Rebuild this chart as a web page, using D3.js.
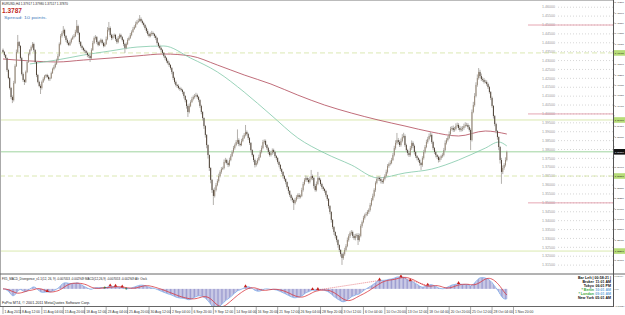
<!DOCTYPE html>
<html>
<head>
<meta charset="utf-8">
<script src="https://cdnjs.cloudflare.com/ajax/libs/d3/7.8.5/d3.min.js"></script>
<style>
body { margin: 0; background: #fff; }
svg { display: block; font-family: "Liberation Sans", Arial, sans-serif; }
</style>
</head>
<body>
<div class="canvas"></div>
<script>
const [width, height] = [625, 315];

// ---- price data (H4 closes) ----
const firstOpen = 1.4360;
const closesAugust = [
  1.4348, 1.4331, 1.4314, 1.4247, 1.4202, 1.4146, 1.4095, 1.4078, 1.4174, 1.4269,
  1.4348, 1.4404, 1.4382, 1.4314, 1.4224, 1.4191, 1.4180, 1.4236, 1.4292, 1.4337,
  1.4359, 1.4376, 1.4393, 1.4359, 1.4292, 1.4219, 1.4180, 1.4157, 1.4146, 1.4180,
  1.4196, 1.4213, 1.4219, 1.4208, 1.4196, 1.4202, 1.4230, 1.4253, 1.4264, 1.4281,
  1.4303, 1.4326, 1.4393, 1.4438, 1.4455, 1.4472, 1.4438, 1.4416, 1.4399, 1.4388,
  1.4404, 1.4421, 1.4432, 1.4438, 1.4461, 1.4494, 1.4455, 1.4404, 1.4382, 1.4371,
  1.4359, 1.4354, 1.4343, 1.4331, 1.4326, 1.4314, 1.4359, 1.4399, 1.4427, 1.4432,
  1.4404, 1.4388, 1.4404, 1.4416, 1.4399, 1.4382, 1.4393, 1.4421, 1.4472, 1.4483,
  1.4444, 1.4427, 1.4438, 1.4444, 1.4421, 1.4404, 1.4427, 1.4444, 1.4432, 1.4416,
  1.4393, 1.4371, 1.4393, 1.4416, 1.4427, 1.4444, 1.4461, 1.4477, 1.4489, 1.4506,
  1.4517, 1.4522, 1.4534, 1.4522, 1.4511, 1.4500, 1.4483, 1.4466, 1.4449, 1.4438,
  1.4449, 1.4455, 1.4449, 1.4438, 1.4427, 1.4399, 1.4382, 1.4371, 1.4359, 1.4343
];
const closesSeptember = [
  1.4326, 1.4314, 1.4298, 1.4286, 1.4275, 1.4258, 1.4236, 1.4202, 1.4180, 1.4163,
  1.4157, 1.4146, 1.4140, 1.4135, 1.4123, 1.4101, 1.4078, 1.4045, 1.4011, 1.4045,
  1.4067, 1.4084, 1.4095, 1.4101, 1.4106, 1.4095, 1.4078, 1.4045, 1.4011, 1.3977,
  1.3932, 1.3882, 1.3825, 1.3769, 1.3696, 1.3629, 1.3572, 1.3539, 1.3572, 1.3600,
  1.3623, 1.3651, 1.3674, 1.3690, 1.3696, 1.3730, 1.3741, 1.3724, 1.3713, 1.3741,
  1.3763, 1.3786, 1.3808, 1.3825, 1.3842, 1.3853, 1.3831, 1.3825, 1.3848, 1.3865,
  1.3882, 1.3898, 1.3887, 1.3865, 1.3837, 1.3797, 1.3769, 1.3741, 1.3713, 1.3724,
  1.3741, 1.3758, 1.3786, 1.3808, 1.3842, 1.3848, 1.3825, 1.3808, 1.3786, 1.3769,
  1.3780, 1.3797, 1.3786, 1.3763, 1.3752, 1.3730, 1.3713, 1.3690, 1.3674, 1.3651,
  1.3634, 1.3617, 1.3589, 1.3567, 1.3544, 1.3527, 1.3516, 1.3499, 1.3516, 1.3533,
  1.3544, 1.3533, 1.3539, 1.3572, 1.3606, 1.3629, 1.3640, 1.3629, 1.3617, 1.3634,
  1.3651, 1.3640, 1.3595, 1.3572, 1.3606, 1.3640, 1.3629, 1.3606, 1.3589, 1.3578,
  1.3567, 1.3544, 1.3522, 1.3482, 1.3449, 1.3404, 1.3364, 1.3336, 1.3314, 1.3291,
  1.3263, 1.3235
];
const closesOctober = [
  1.3212, 1.3190, 1.3212, 1.3235, 1.3257, 1.3291, 1.3314, 1.3331,
  1.3336, 1.3314, 1.3302, 1.3314, 1.3319, 1.3291, 1.3314, 1.3370, 1.3392, 1.3415,
  1.3432, 1.3437, 1.3449, 1.3460, 1.3488, 1.3516, 1.3539, 1.3572, 1.3612, 1.3634,
  1.3640, 1.3634, 1.3623, 1.3617, 1.3634, 1.3651, 1.3674, 1.3707, 1.3718, 1.3724,
  1.3741, 1.3769, 1.3808, 1.3837, 1.3853, 1.3842, 1.3825, 1.3848, 1.3870, 1.3876,
  1.3825, 1.3797, 1.3780, 1.3769, 1.3808, 1.3837, 1.3820, 1.3786, 1.3763, 1.3752,
  1.3741, 1.3724, 1.3713, 1.3752, 1.3786, 1.3814, 1.3842, 1.3859, 1.3876, 1.3882,
  1.3842, 1.3808, 1.3786, 1.3769, 1.3758, 1.3741, 1.3752, 1.3763, 1.3769, 1.3797,
  1.3837, 1.3853, 1.3865, 1.3887, 1.3915, 1.3921, 1.3910, 1.3915, 1.3932, 1.3938,
  1.3921, 1.3910, 1.3915, 1.3921, 1.3932, 1.3938, 1.3938, 1.3926, 1.3910, 1.3853,
  1.4011, 1.4050, 1.4101, 1.4163, 1.4202, 1.4236, 1.4213, 1.4196, 1.4191, 1.4180,
  1.4180, 1.4168, 1.4151, 1.4123, 1.4090, 1.4045, 1.3988, 1.3943, 1.3904, 1.3870,
  1.3814, 1.3741, 1.3674, 1.3696, 1.3713, 1.3741, 1.3787
];
// wick lengths above / below the body, in pips
const upperWickPips = [
  8,6,5,4,7,5,6,9,12,10,14,40,6,5,7,9,6,8,10,7,
  6,9,11,8,5,4,6,7,9,8,10,6,5,7,9,6,8,7,10,9,
  8,12,9,11,10,22,7,6,9,8,10,7,9,11,12,34,8,5,6,7,
  6,8,5,7,6,8,10,12,9,11,6,7,9,8,6,7,10,14,16,34,
  9,7,10,8,6,9,11,8,7,6,5,6,9,10,8,11,9,12,10,13,
  11,14,22,9,8,7,6,8,10,7,9,12,8,6,7,5,6,8,7,6,
  5,7,6,8,9,5,6,4,7,8,6,9,7,8,6,5,4,6,9,14,
  10,12,9,11,13,8,6,5,7,5,4,6,5,4,3,5,6,8,15,12,
  10,13,9,11,8,14,12,7,9,13,11,10,12,9,11,60,10,8,12,14,
  11,40,9,7,6,5,4,6,8,12,10,13,11,14,12,9,8,6,7,10,
  12,9,8,7,6,5,7,6,5,4,6,5,4,6,5,7,8,6,12,10,
  9,11,8,13,12,10,14,9,11,13,34,8,7,12,14,34,9,8,7,6,
  5,6,4,5,6,4,5,6,4,5,6,4,5,7,10,12,11,14,10,9,
  11,8,10,12,9,11,13,10,9,12,8,11,10,9,12,11,13,10,9,12,
  10,8,11,9,12,10,13,11,9,14,12,11,13,15,40,12,10,14,16,18,
  9,8,7,10,12,14,9,8,7,6,5,7,6,10,12,11,13,12,14,16,
  9,7,6,8,5,7,9,8,10,12,14,11,12,15,13,11,14,12,15,13,
  10,12,14,11,13,15,12,10,11,9,14,18,16,15,20,22,12,14,10,11,
  12,9,8,7,6,8,5,6,7,5,4,6,12,14,10,15,6
];
const lowerWickPips = [
  6,9,8,10,7,9,12,17,8,6,5,7,10,9,8,11,17,6,7,5,
  8,6,7,10,9,12,8,7,34,9,6,8,10,7,9,11,6,5,8,7,
  6,5,4,7,9,8,10,12,9,7,6,8,5,7,6,8,10,12,9,11,
  8,10,9,12,11,22,6,5,7,9,10,8,6,7,9,8,6,5,7,9,
  10,12,8,9,11,10,7,6,8,9,12,28,7,6,5,6,7,5,4,6,
  5,6,4,7,8,9,10,11,9,8,7,10,9,11,12,10,9,8,11,10,
  9,12,10,8,11,9,13,12,10,9,11,8,10,9,12,14,13,15,28,8,
  7,6,8,9,7,10,12,11,13,14,16,15,18,20,17,19,16,51,9,8,
  7,9,8,10,6,8,7,9,12,8,7,6,8,9,7,10,12,8,6,7,
  6,8,9,12,11,13,10,12,14,9,8,7,6,8,7,9,11,10,12,9,
  8,10,9,11,12,10,13,11,12,14,10,13,12,15,11,14,13,39,8,9,
  12,10,8,7,9,8,10,11,9,8,7,12,14,9,8,7,9,10,12,11,
  10,12,11,14,13,15,12,16,14,13,15,12,14,39,10,9,8,7,9,11,
  10,12,11,13,10,28,9,8,10,7,9,8,10,11,9,8,7,9,10,8,
  11,12,14,10,9,8,7,9,10,8,7,6,8,9,10,12,11,9,8,7,
  10,12,13,11,9,10,12,14,11,13,12,15,28,10,9,8,7,9,8,7,
  10,12,11,13,12,14,11,10,9,8,7,9,8,7,10,9,11,10,8,9,
  11,10,9,12,10,9,8,11,10,56,8,7,9,8,10,9,12,11,10,9,
  8,10,11,9,12,10,14,12,13,15,18,20,67,12,10,9,8
];

// moving averages, sampled at bar numbers
const slowMaBars = [0,20,40,60,80,100,120,140,160,180,200,220,240,260,280,300,320,340,360,376];
const slowMaValues = [1.4309,1.4298,1.4292,1.4303,1.4314,1.4326,1.4337,1.4326,1.4275,1.4219,
                      1.4168,1.4106,1.4050,1.4005,1.3966,1.3932,1.3898,1.3876,1.3904,1.3887];
const fastMaBars = [20,40,60,80,100,120,140,160,180,200,220,240,260,280,300,320,340,360,370,376];
const fastMaValues = [1.4281,1.4303,1.4331,1.4354,1.4376,1.4382,1.4314,1.4236,1.4123,1.3994,
                      1.3865,1.3780,1.3713,1.3640,1.3668,1.3690,1.3741,1.3808,1.3842,1.3820];

// horizontal levels
const dashedLevels = [1.4343, 1.3651];
const solidLevels = [1.3966, 1.3229];
const majorLevels = [1.45, 1.40, 1.35];
const roundLevels = d3.range(1.315, 1.46001, 0.005);

// axes
const priceAxisTicks = [1.46270,1.45690,1.45110,1.44530,1.43950,1.43370,1.42790,1.42210,1.41630,
  1.41050,1.40470,1.39890,1.39310,1.38730,1.38150,1.37570,1.36990,1.36410,1.35830,1.35250,
  1.34670,1.34090,1.33510,1.32930,1.32350,1.31770];
const timeLabels = ["1 Aug 2011","8 Aug 12:00","11 Aug 04:00","15 Aug 20:00","18 Aug 12:00",
  "23 Aug 04:00","25 Aug 20:00","30 Aug 12:00","2 Sep 04:00","6 Sep 20:00","9 Sep 12:00",
  "14 Sep 04:00","16 Sep 20:00","21 Sep 12:00","26 Sep 04:00","28 Sep 20:00","3 Oct 12:00",
  "6 Oct 04:00","10 Oct 20:00","13 Oct 12:00","18 Oct 04:00","20 Oct 20:00","25 Oct 12:00",
  "28 Oct 04:00","1 Nov 20:00"];
const macdAxisTicks = [0.010464, 0, -0.013924];

// MACD divergence markers (bar numbers)
const divergenceBars = [33, 80, 84, 89, 181, 231, 235, 281, 297, 304, 317, 340];
const divergenceLinks = [[235, 281], [297, 317]];
const crossBars = [76, 92];

// clock panel
const clockNames = ["Bar Left", "Broker", "Tokyo", "* Berlin", "* London", "New York"];
const clockTimes = ["| 00:58:21 |", "11:01 AM", "06:01 PM", "10:01 AM", "09:01 AM", "05:01 AM"];

const closes = closesAugust.concat(closesSeptember, closesOctober);
const bars = closes.map((c, i) => {
  const o = i === 0 ? firstOpen : closes[i - 1];
  return {
    i, o, c,
    h: Math.max(o, c) + (upperWickPips[i] || 0) / 10000,
    l: Math.min(o, c) - (lowerWickPips[i] || 0) / 10000
  };
});

// MACD(12,26,9) of the closes
function ema(vals, n){
  const k = 2 / (n + 1);
  let e = vals[0];
  return vals.map(v => (e = v * k + e * (1 - k)));
}
const e12 = ema(closes, 12), e26 = ema(closes, 26);
const macd = closes.map((c, i) => e12[i] - e26[i]);
const signal = macd.map((m, i) => d3.mean(macd.slice(Math.max(0, i - 8), i + 1)));

const svg = d3.select('.canvas')
  .append('svg')
  .attr('width', width)
  .attr('height', height);

svg.append('rect').attr('width', width).attr('height', height).attr('fill', '#fff');

const axisX = 613;
const x = d3.scaleLinear().domain([0, closes.length - 1]).range([3, 506.8]);
const y = d3.scaleLinear().domain([1.3145, 1.4247]).range([266, 70]);
const ym = d3.scaleLinear().domain(d3.extent(macdAxisTicks)).range([306, 276]);
const fmt5 = d3.format('.5f');

svg.append('clipPath').attr('id', 'mainClip')
  .append('rect').attr('x', 0).attr('y', 0).attr('width', axisX).attr('height', 273);
svg.append('clipPath').attr('id', 'macdClip')
  .append('rect').attr('x', 0).attr('y', 275).attr('width', axisX).attr('height', 31);

const main = svg.append('g').attr('clip-path', 'url(#mainClip)');

// round number grid on the right side
main.selectAll('line.round')
  .data(roundLevels)
  .enter()
  .append('line')
  .attr('x1', 558).attr('x2', axisX)
  .attr('y1', d => y(d)).attr('y2', d => y(d))
  .attr('stroke', '#c4c4c4')
  .attr('stroke-width', 0.7)
  .attr('stroke-dasharray', '1,2');
main.selectAll('text.round')
  .data(roundLevels)
  .enter()
  .append('text')
  .attr('x', 555).attr('y', d => y(d) + 1.2)
  .attr('text-anchor', 'end')
  .attr('font-size', 3.6)
  .attr('fill', '#999')
  .text(d => fmt5(d));

main.selectAll('line.major')
  .data(majorLevels)
  .enter()
  .append('line')
  .attr('x1', 528).attr('x2', axisX)
  .attr('y1', d => y(d)).attr('y2', d => y(d))
  .attr('stroke', '#e090a0')
  .attr('stroke-width', 0.8);

main.selectAll('line.solid')
  .data(solidLevels)
  .enter()
  .append('line')
  .attr('x1', 0).attr('x2', axisX)
  .attr('y1', d => y(d)).attr('y2', d => y(d))
  .attr('stroke', '#d6e6a6')
  .attr('stroke-width', 0.9);

main.selectAll('line.dashed')
  .data(dashedLevels)
  .enter()
  .append('line')
  .attr('x1', 0).attr('x2', axisX)
  .attr('y1', d => y(d)).attr('y2', d => y(d))
  .attr('stroke', '#d2e2a0')
  .attr('stroke-width', 0.8)
  .attr('stroke-dasharray', '5,3');

const lastClose = closes[closes.length - 1];
main.append('line')
  .attr('x1', 0).attr('x2', axisX)
  .attr('y1', y(lastClose)).attr('y2', y(lastClose))
  .attr('stroke', '#86c886')
  .attr('stroke-width', 0.8);

// moving averages
const maLine = d3.line().x(d => x(d[0])).y(d => y(d[1])).curve(d3.curveMonotoneX);
main.append('path')
  .attr('d', maLine(slowMaBars.map((b, i) => [b, slowMaValues[i]])))
  .attr('stroke', '#b04858')
  .attr('stroke-width', 0.8)
  .attr('fill', 'none');
main.append('path')
  .attr('d', maLine(fastMaBars.map((b, i) => [b, fastMaValues[i]])))
  .attr('stroke', '#80c8a8')
  .attr('stroke-width', 0.8)
  .attr('fill', 'none');

// candles
main.selectAll('line.wick')
  .data(bars)
  .enter()
  .append('line')
  .attr('x1', d => x(d.i)).attr('x2', d => x(d.i))
  .attr('y1', d => y(d.h)).attr('y2', d => y(d.l))
  .attr('stroke', '#aca8a4')
  .attr('stroke-width', 0.9);
main.selectAll('rect.body')
  .data(bars)
  .enter()
  .append('rect')
  .attr('x', d => x(d.i) - 0.45)
  .attr('width', 0.9)
  .attr('y', d => y(Math.max(d.o, d.c)))
  .attr('height', d => Math.max(0.8, Math.abs(y(d.o) - y(d.c))))
  .attr('fill', d => d.c >= d.o ? '#968674' : '#46392c');

// title texts
svg.append('text').attr('x', 2).attr('y', 4.5).attr('font-size', 3.6).attr('fill', '#222')
  .attr('textLength', 66).attr('lengthAdjust', 'spacingAndGlyphs')
  .text('EURUSD,H4  1.37917 1.37980 1.37517 1.37870');
svg.append('text').attr('x', 2).attr('y', 12.5).attr('font-size', 8).attr('font-weight', 'bold')
  .attr('fill', '#c0281e').attr('textLength', 20).attr('lengthAdjust', 'spacingAndGlyphs')
  .text('1.3787');
svg.append('text').attr('x', 4).attr('y', 19).attr('font-size', 3.8).attr('fill', '#4a7fc0')
  .attr('textLength', 43).attr('lengthAdjust', 'spacingAndGlyphs')
  .text('Spread: 10 points.');

// MACD panel
const macdG = svg.append('g').attr('clip-path', 'url(#macdClip)');
macdG.selectAll('rect.hist')
  .data(macd)
  .enter()
  .append('rect')
  .attr('x', (d, i) => x(i) - 0.5)
  .attr('width', 0.9)
  .attr('y', d => Math.min(ym(d), ym(0)))
  .attr('height', d => Math.abs(ym(d) - ym(0)))
  .attr('fill', '#9494cc');
const mLine = d3.line().x((d, i) => x(i)).y(d => ym(d));
macdG.append('path').attr('d', mLine(macd))
  .attr('stroke', '#7fb0ee').attr('stroke-width', 0.8).attr('fill', 'none');
macdG.append('path').attr('d', mLine(signal))
  .attr('stroke', '#d8323a').attr('stroke-width', 0.8).attr('fill', 'none');
macdG.selectAll('line.div')
  .data(divergenceLinks)
  .enter()
  .append('line')
  .attr('x1', d => x(d[0])).attr('y1', d => ym(macd[d[0]]))
  .attr('x2', d => x(d[1])).attr('y2', d => ym(macd[d[1]]))
  .attr('stroke', '#d8323a').attr('stroke-width', 0.6).attr('stroke-dasharray', '1,1');
macdG.selectAll('path.mark')
  .data(divergenceBars)
  .enter()
  .append('path')
  .attr('d', d3.symbol(d3.symbolTriangle).size(5))
  .attr('transform', d => `translate(${x(d)},${ym(macd[d]) - 1})`)
  .attr('fill', '#c8201c');
macdG.selectAll('text.cross')
  .data(crossBars)
  .enter()
  .append('text')
  .attr('x', d => x(d)).attr('y', d => ym(macd[d]) + 1.5)
  .attr('text-anchor', 'middle').attr('font-size', 5).attr('font-weight', 'bold')
  .attr('fill', '#2a6a2a').text('+');

svg.append('text').attr('x', 2).attr('y', 280).attr('font-size', 3.4).attr('fill', '#222')
  .attr('textLength', 145).attr('lengthAdjust', 'spacingAndGlyphs')
  .text('FX5_MACD_Divergence_v1.1(12, 26, 9)  -0.007053  -0.002949  MACD(12,26,9)  -0.007053  -0.002949  Alt: Osck');
svg.append('text').attr('x', 2).attr('y', 304).attr('font-size', 3.4).attr('fill', '#222')
  .attr('textLength', 88).attr('lengthAdjust', 'spacingAndGlyphs')
  .text('FxPro MT4, \u00a9 2001-2011 MetaQuotes Software Corp.');

// clock panel
clockNames.forEach((n, i) => {
  const special = n.startsWith('*');
  const yy = 279 + i * 4;
  if (i === 0) {
    svg.append('text').attr('x', 611).attr('y', yy).attr('text-anchor', 'end')
      .attr('font-size', 3.6).attr('font-weight', 'bold').attr('fill', '#111')
      .text(n + ' ' + clockTimes[i]);
    return;
  }
  svg.append('text').attr('x', 594).attr('y', yy).attr('text-anchor', 'end')
    .attr('font-size', 3.6).attr('font-weight', 'bold')
    .attr('fill', special ? '#3aa83a' : '#111').text(n);
  svg.append('text').attr('x', 611).attr('y', yy).attr('text-anchor', 'end')
    .attr('font-size', 3.6).attr('font-weight', 'bold')
    .attr('fill', special ? '#6aa6d8' : '#111').text(clockTimes[i]);
});

// frames
svg.append('line').attr('x1', 0).attr('x2', axisX).attr('y1', 0.5).attr('y2', 0.5).attr('stroke', '#bbb');
svg.append('line').attr('x1', 0.5).attr('x2', 0.5).attr('y1', 0).attr('y2', 307).attr('stroke', '#aaa');
svg.append('line').attr('x1', 0).attr('x2', width).attr('y1', 274).attr('y2', 274).attr('stroke', '#666');
svg.append('line').attr('x1', 0).attr('x2', axisX).attr('y1', 306.5).attr('y2', 306.5).attr('stroke', '#666');
svg.append('line').attr('x1', axisX + 0.5).attr('x2', axisX + 0.5).attr('y1', 0).attr('y2', 307).attr('stroke', '#555');

// price axis (small labels so they fit in the narrow strip right of the chart)
const tagged = dashedLevels.concat(solidLevels, [lastClose]);
const axisG = svg.append('g');
axisG.selectAll('line.pt')
  .data(priceAxisTicks)
  .enter()
  .append('line')
  .attr('x1', axisX).attr('x2', axisX + 1.5)
  .attr('y1', d => y(d)).attr('y2', d => y(d))
  .attr('stroke', '#555').attr('stroke-width', 0.6);
axisG.selectAll('text.pt')
  .data(priceAxisTicks.filter(d => y(d) < 270 && tagged.every(t => Math.abs(y(t) - y(d)) > 5.5)))
  .enter()
  .append('text')
  .attr('x', axisX + 1.8).attr('y', d => y(d) + 1)
  .attr('font-size', 2.5).attr('fill', '#333')
  .text(d => fmt5(d));

tagged.forEach((p, k) => {
  const isBid = k === tagged.length - 1;
  axisG.append('rect').attr('x', axisX + 1).attr('y', y(p) - 2.8).attr('width', 11).attr('height', 5.6)
    .attr('fill', isBid ? '#111' : '#b6dc78');
  axisG.append('text').attr('x', axisX + 1.8).attr('y', y(p) + 1).attr('font-size', 2.5)
    .attr('fill', isBid ? '#fff' : '#222').text(fmt5(p));
});

// MACD axis
axisG.selectAll('text.mt')
  .data(macdAxisTicks)
  .enter()
  .append('text')
  .attr('x', axisX + 1.5).attr('y', d => ym(d) + 1.2)
  .attr('font-size', 2.1).attr('fill', '#333')
  .text(d => d === 0 ? '0.00' : d3.format('.6f')(d));

// time axis: first label at the first bar, then every 16 bars
const timeTicks = timeLabels.map((t, k) => ({t, b: k === 0 ? 0 : 13 + 16 * (k - 1)}));
const tAxis = svg.append('g');
tAxis.selectAll('line')
  .data(timeTicks)
  .enter()
  .append('line')
  .attr('x1', d => x(d.b)).attr('x2', d => x(d.b))
  .attr('y1', 307).attr('y2', 314)
  .attr('stroke', '#555').attr('stroke-width', 0.5);
tAxis.selectAll('text')
  .data(timeTicks)
  .enter()
  .append('text')
  .attr('x', d => x(d.b) + 1.5).attr('y', 312.5)
  .attr('font-size', 3.4).attr('fill', '#333')
  .text(d => d.t);
</script>
</body>
</html>
